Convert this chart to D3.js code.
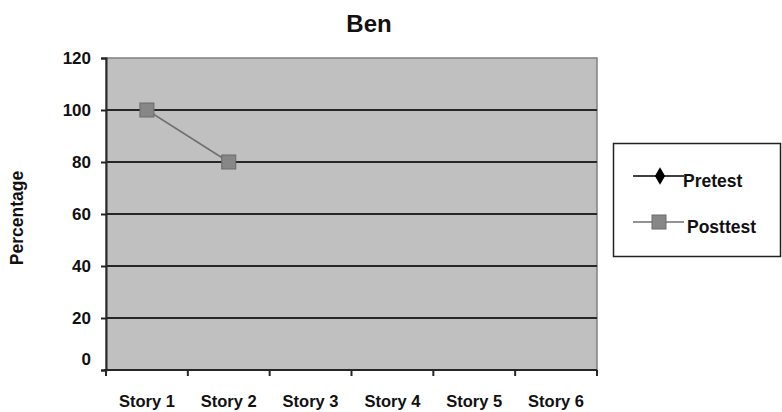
<!DOCTYPE html>
<html>
<head>
<meta charset="utf-8">
<script src="https://cdn.jsdelivr.net/npm/d3@7"></script>
<style>
  html, body { margin: 0; padding: 0; background: #fff; }
  svg { display: block; font-family: "Liberation Sans", Arial, sans-serif; }
</style>
</head>
<body>
<svg id="chart" width="782" height="412"></svg>
<script>
// Chart data
const title = "Ben";
const categories = ["Story 1", "Story 2", "Story 3", "Story 4", "Story 5", "Story 6"];
const pretest = [];                 // no pretest scores recorded
const posttest = [100, 80];         // Story 1, Story 2
const yTicks = [0, 20, 40, 60, 80, 100, 120];
const seriesNames = ["Pretest", "Posttest"];

const svg = d3.select("#chart");
const plot = { left: 106, right: 597, top: 58, bottom: 370 };

const x = d3.scaleBand().domain(categories).range([plot.left, plot.right]);
const y = d3.scaleLinear().domain([0, 120]).range([plot.bottom, plot.top]);

// Plot background
svg.append("rect")
  .attr("x", plot.left).attr("y", plot.top)
  .attr("width", plot.right - plot.left).attr("height", plot.bottom - plot.top)
  .attr("fill", "#c0c0c0")
  .attr("stroke", "#808080").attr("stroke-width", 1.5);

// Horizontal gridlines
svg.append("g").selectAll("line")
  .data(yTicks.filter(d => d > 0 && d < 120))
  .join("line")
  .attr("x1", plot.left).attr("x2", plot.right)
  .attr("y1", d => y(d)).attr("y2", d => y(d))
  .attr("stroke", "#262626").attr("stroke-width", 2);

// Y axis
const yAxis = svg.append("g")
  .attr("transform", `translate(${plot.left},0)`)
  .call(d3.axisLeft(y).tickValues(yTicks).tickSize(5).tickPadding(10));
yAxis.select(".domain").attr("stroke", "#262626").attr("stroke-width", 2);
yAxis.selectAll(".tick line").attr("stroke", "#262626").attr("stroke-width", 2);
yAxis.selectAll(".tick text")
  .attr("font-size", 17).attr("font-weight", "bold").attr("fill", "#111")
  .attr("font-family", "'Liberation Sans', Arial, sans-serif")
  .attr("dy", d => d === 0 ? "-0.3em" : "0.32em");

// X axis with ticks at category boundaries
const bounds = categories.map(c => x(c)).concat([plot.right]);
svg.append("line")
  .attr("x1", plot.left - 2).attr("x2", plot.right)
  .attr("y1", plot.bottom).attr("y2", plot.bottom)
  .attr("stroke", "#262626").attr("stroke-width", 2);
svg.append("g").selectAll("line")
  .data(bounds)
  .join("line")
  .attr("x1", d => d).attr("x2", d => d)
  .attr("y1", plot.bottom).attr("y2", plot.bottom + 6)
  .attr("stroke", "#262626").attr("stroke-width", 2);
svg.append("g").selectAll("text")
  .data(categories)
  .join("text")
  .attr("x", d => x(d) + x.bandwidth() / 2)
  .attr("y", 407)
  .attr("text-anchor", "middle")
  .attr("font-size", 16.5).attr("font-weight", "bold").attr("fill", "#111")
  .text(d => d);

// Title and axis label
svg.append("text")
  .attr("x", 369).attr("y", 32)
  .attr("text-anchor", "middle")
  .attr("font-size", 24).attr("font-weight", "bold").attr("fill", "#111")
  .text(title);
svg.append("text")
  .attr("transform", "translate(23,218) rotate(-90)")
  .attr("text-anchor", "middle")
  .attr("font-size", 17.5).attr("font-weight", "bold").attr("fill", "#111")
  .text("Percentage");

// Series
const cx = i => x(categories[i]) + x.bandwidth() / 2;
const line = d3.line().x((d, i) => cx(i)).y(d => y(d));

svg.append("path").datum(pretest)
  .attr("d", line).attr("fill", "none").attr("stroke", "#000").attr("stroke-width", 1.5);
svg.append("g").selectAll("path")
  .data(pretest)
  .join("path")
  .attr("transform", (d, i) => `translate(${cx(i)},${y(d)})`)
  .attr("d", d3.symbol(d3.symbolDiamond, 80))
  .attr("fill", "#000");

svg.append("path").datum(posttest)
  .attr("d", line).attr("fill", "none").attr("stroke", "#707070").attr("stroke-width", 1.5);
svg.append("g").selectAll("rect")
  .data(posttest)
  .join("rect")
  .attr("x", (d, i) => cx(i) - 7).attr("y", d => y(d) - 7)
  .attr("width", 14).attr("height", 14)
  .attr("fill", "#878787").attr("stroke", "#6a6a6a").attr("stroke-width", 1);

// Legend
const legend = svg.append("g");
legend.append("rect")
  .attr("x", 613.5).attr("y", 143.5).attr("width", 167).attr("height", 113)
  .attr("fill", "#fff").attr("stroke", "#222").attr("stroke-width", 1.5);
const rows = [
  { name: seriesNames[0], y: 176, color: "#000", symbol: "diamond", tx: 683 },
  { name: seriesNames[1], y: 222, color: "#707070", symbol: "square", tx: 687 }
];
rows.forEach(r => {
  legend.append("line")
    .attr("x1", 633).attr("x2", 684).attr("y1", r.y).attr("y2", r.y)
    .attr("stroke", r.color).attr("stroke-width", 1.5);
  if (r.symbol === "diamond") {
    legend.append("path")
      .attr("transform", `translate(660,${r.y})`)
      .attr("d", d3.symbol(d3.symbolDiamond, 90))
      .attr("fill", "#000");
  } else {
    legend.append("rect")
      .attr("x", 652).attr("y", r.y - 7).attr("width", 14).attr("height", 14)
      .attr("fill", "#878787").attr("stroke", "#6a6a6a");
  }
  legend.append("text")
    .attr("x", r.tx).attr("y", r.y + 11)
    .attr("font-size", 17.5).attr("font-weight", "bold").attr("fill", "#111")
    .text(r.name);
});
</script>
</body>
</html>
